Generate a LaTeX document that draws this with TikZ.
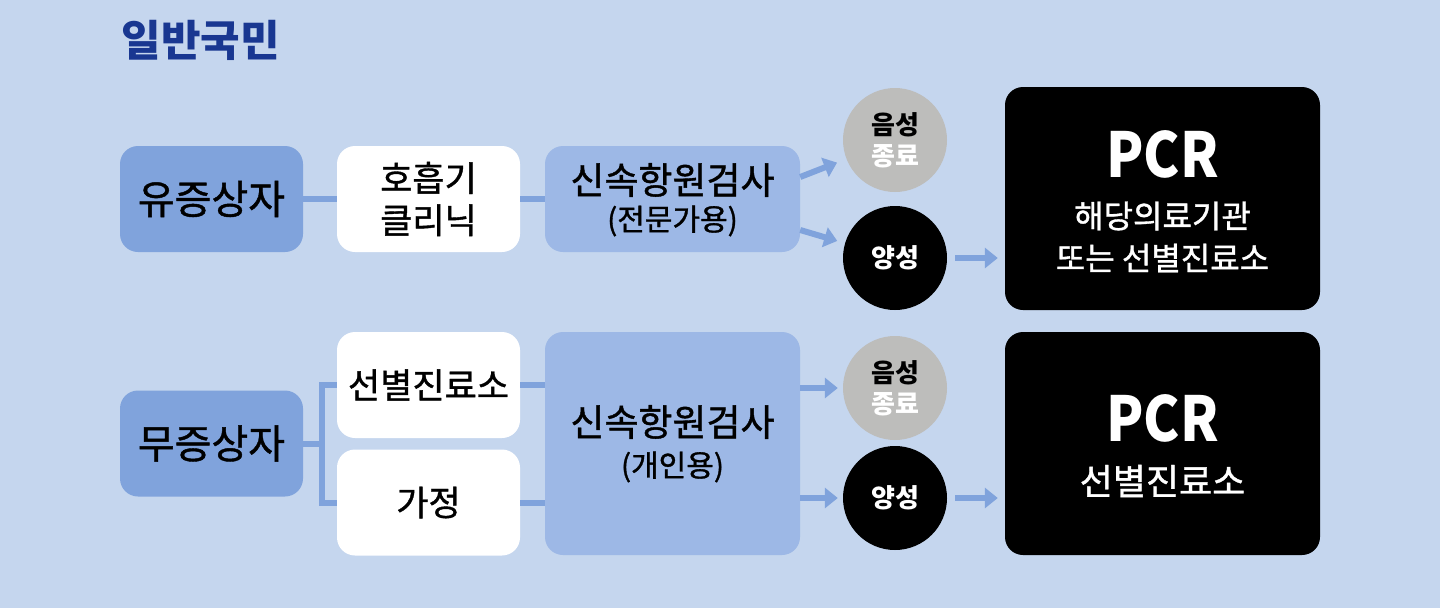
\documentclass[tikz,border=0pt]{standalone}
\usepackage{fontspec}
\setmainfont{Noto Sans CJK KR}
\newfontfamily\medfont{Noto Sans CJK KR}[FakeBold=1.1]
\newfontfamily\pcrfont{Noto Sans CJK KR}[FakeStretch=0.88]
\usetikzlibrary{arrows.meta}
\definecolor{bgblue}{RGB}{197,214,238}
\definecolor{darkbox}{RGB}{128,163,220}
\definecolor{lightbox}{RGB}{157,184,230}
\definecolor{linkblue}{RGB}{128,163,220}
\definecolor{titleblue}{RGB}{25,55,145}
\definecolor{neggray}{RGB}{189,189,187}
\begin{document}
\begin{tikzpicture}[x=1pt,y=-1pt,
    box/.style={rounded corners=18pt, inner sep=0pt, align=center,
        minimum width=183pt, minimum height=106pt},
    groupbox/.style={box, fill=darkbox, font=\medfont\fontsize{40}{42}\selectfont},
    placebox/.style={box, fill=white, font=\medfont\fontsize{35}{42}\selectfont},
    testbox/.style={box, fill=lightbox, minimum width=255pt},
    pcrbox/.style={box, fill=black, minimum width=315pt, minimum height=223pt},
    result/.style={circle, inner sep=0pt, minimum size=104pt, align=center,
        font=\fontsize{26}{31}\selectfont\bfseries},
    link/.style={linkblue, line width=6pt},
    arr/.style={linkblue, line width=6pt, -{Triangle[length=13pt,width=20pt]}}]
    \fill [bgblue] (0,0) rectangle (1440,608);
    \node [anchor=west, titleblue, font=\fontsize{43}{43}\selectfont\bfseries] (title) at (118,40) {일반국민};
    % symptomatic
    \node [groupbox] (sym) at (211.5,199) {유증상자};
    \node [placebox] (clinic) at (428.5,199) {호흡기\\클리닉};
    \node [testbox] (fastpro) at (672.5,199) {};
    \node [font=\medfont\fontsize{37}{37}\selectfont] (fastprotop) at (672.5,180) {신속항원검사};
    \node [font=\medfont\fontsize{30}{30}\selectfont] (fastprosub) at (672.5,221) {(전문가용)};
    \node [result, fill=neggray] (negpro) at (895,140) {음성\\\textcolor{white}{종료}};
    \node [result, fill=black, text=white] (pospro) at (895,258) {양성};
    \node [pcrbox] (pcrhosp) at (1162.5,198.5) {};
    \node [white, font=\pcrfont\fontsize{62}{62}\selectfont\bfseries] (pcrhosptop) at (1162.5,154) {PCR};
    \node [white, font=\medfont\fontsize{32}{32}\selectfont] (pcrhospmid) at (1162.5,216) {해당의료기관};
    \node [white, font=\medfont\fontsize{32}{32}\selectfont] (pcrhospbot) at (1162.5,258) {또는 선별진료소};
    \draw [link] (sym) -- (clinic);
    \draw [link] (clinic) -- (fastpro);
    \draw [arr, shorten >=10pt] ([yshift=22pt]fastpro.east) -- (negpro);
    \draw [arr, shorten >=8pt] ([yshift=-31pt]fastpro.east) -- (pospro);
    \draw [arr, shorten <=8pt, shorten >=7pt] (pospro) -- (pospro -| pcrhosp.west);
    % asymptomatic
    \node [groupbox] (asym) at (211.5,443.5) {무증상자};
    \node [placebox] (screen) at (428.5,385) {선별진료소};
    \node [placebox] (home) at (428.5,502.5) {가정};
    \node [testbox, minimum height=223pt] (fastself) at (672.5,443.5) {};
    \node [font=\medfont\fontsize{37}{37}\selectfont] (fastselftop) at (672.5,422) {신속항원검사};
    \node [font=\medfont\fontsize{30}{30}\selectfont] (fastselfsub) at (672.5,467) {(개인용)};
    \node [result, fill=neggray] (negself) at (895,388) {음성\\\textcolor{white}{종료}};
    \node [result, fill=black, text=white] (posself) at (895,498) {양성};
    \node [pcrbox] (pcrscreen) at (1162.5,443.5) {};
    \node [white, font=\pcrfont\fontsize{62}{62}\selectfont\bfseries] (pcrscreentop) at (1162.5,418) {PCR};
    \node [white, font=\medfont\fontsize{36}{36}\selectfont] (pcrscreenbot) at (1162.5,481) {선별진료소};
    \coordinate (fork) at (322,443.5);
    \draw [link] (asym) -- (fork);
    \draw [link] (screen.west) -| (fork) |- (home.west);
    \draw [link] (screen.east) -- (screen.east -| fastself.west);
    \draw [link] (home.east) -- (home.east -| fastself.west);
    \draw [arr, shorten >=5pt] (negself -| fastself.east) -- (negself.west);
    \draw [arr, shorten >=5pt] (posself -| fastself.east) -- (posself.west);
    \draw [arr, shorten <=8pt, shorten >=7pt] (posself) -- (posself -| pcrscreen.west);
\end{tikzpicture}
\end{document}
